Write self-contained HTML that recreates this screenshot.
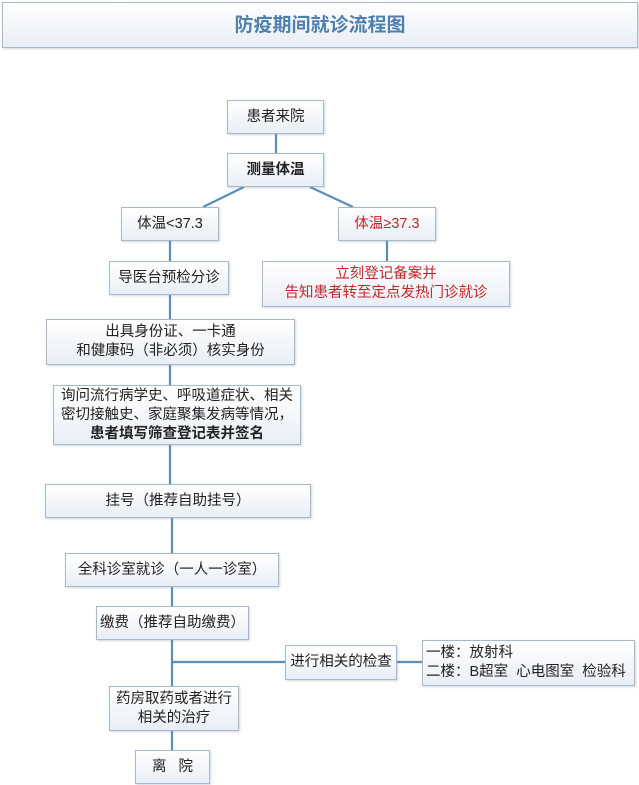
<!DOCTYPE html>
<html><head><meta charset="utf-8"><style>
body{margin:0;width:639px;height:785px;background:#fff;position:relative;overflow:hidden;font-family:"Liberation Sans","Noto Sans CJK SC",sans-serif;color:#222}
.b{position:absolute;box-sizing:border-box;border:1px solid #a9b9cc;background:linear-gradient(180deg,#fff 0%,#f3f6fa 55%,#e8eef6 100%);box-shadow:1px 1px 2px rgba(120,140,170,.35);display:flex;align-items:center;justify-content:center;text-align:center;font-size:14.5px;line-height:19px}
.b>span{display:block}
</style></head><body>
<div class="b" style="left:2px;top:2px;width:636px;height:46px;font-size:19px;font-weight:bold;color:#4f7fae"><span>防疫期间就诊流程图</span></div>

<svg style="position:absolute;left:0;top:0" width="639" height="785">
<g stroke="#5b8db8" stroke-width="2.2" fill="none">
<line x1="276" y1="134" x2="276" y2="153"/>
<line x1="244" y1="187" x2="203" y2="207"/>
<line x1="310" y1="187" x2="353" y2="207"/>
<line x1="170" y1="241" x2="170" y2="261"/>
<line x1="387" y1="241" x2="387" y2="261"/>
<line x1="170" y1="295" x2="170" y2="319"/>
<line x1="170" y1="365" x2="170" y2="385"/>
<line x1="170" y1="445" x2="170" y2="484"/>
<line x1="172" y1="518" x2="172" y2="553"/>
<line x1="172" y1="587" x2="172" y2="606"/>
<line x1="172" y1="640" x2="172" y2="686"/>
<line x1="172" y1="662" x2="285" y2="662"/>
<line x1="397" y1="662" x2="422" y2="662"/>
<line x1="172" y1="731" x2="172" y2="750"/>
</g></svg>

<div class="b" style="left:227px;top:100px;width:97px;height:34px"><span>患者来院</span></div>
<div class="b" style="left:227px;top:153px;width:97px;height:34px;font-weight:bold"><span>测量体温</span></div>
<div class="b" style="left:121px;top:207px;width:98px;height:34px"><span>体温&lt;37.3</span></div>
<div class="b" style="left:338px;top:207px;width:98px;height:34px;color:#c0282a"><span>体温≥37.3</span></div>
<div class="b" style="left:109px;top:261px;width:120px;height:34px"><span>导医台预检分诊</span></div>
<div class="b" style="left:262px;top:261px;width:248px;height:46px;color:#c0282a"><span>立刻登记备案并<br>告知患者转至定点发热门诊就诊</span></div>
<div class="b" style="left:46px;top:319px;width:249px;height:46px"><span>出具身份证、一卡通<br>和健康码（非必须）核实身份</span></div>
<div class="b" style="left:53px;top:385px;width:248px;height:60px;white-space:nowrap"><span>询问流行病学史、呼吸道症状、相关<br>密切接触史、家庭聚集发病等情况，<br><b>患者填写筛查登记表并签名</b></span></div>
<div class="b" style="left:45px;top:484px;width:266px;height:34px"><span>挂号（推荐自助挂号）</span></div>
<div class="b" style="left:65px;top:553px;width:214px;height:34px"><span>全科诊室就诊（一人一诊室）</span></div>
<div class="b" style="left:96px;top:606px;width:153px;height:34px"><span>缴费（推荐自助缴费）</span></div>
<div class="b" style="left:285px;top:645px;width:112px;height:35px"><span>进行相关的检查</span></div>
<div class="b" style="left:422px;top:640px;width:213px;height:46px;justify-content:flex-start;text-align:left;padding-left:3px"><span>一楼：放射科<br>二楼：B超室 &nbsp;心电图室 &nbsp;检验科</span></div>
<div class="b" style="left:109px;top:686px;width:130px;height:45px"><span>药房取药或者进行<br>相关的治疗</span></div>
<div class="b" style="left:135px;top:750px;width:75px;height:34px"><span>离 &nbsp;&nbsp;院</span></div>
</body></html>
